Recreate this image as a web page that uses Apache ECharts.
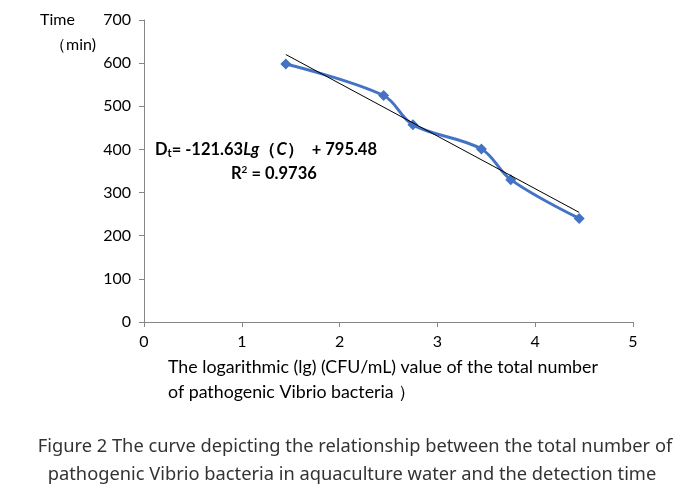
<!DOCTYPE html>
<html><head><meta charset="utf-8">
<script src="https://cdn.jsdelivr.net/npm/echarts@6/dist/echarts.min.js"></script>
<style>html,body{margin:0;padding:0;background:#fff}#c{width:693px;height:499px}</style>
</head><body><div id="c"></div>
<script>
var xValues = [1.45, 2.45, 2.75, 3.45, 3.75, 4.45];
var timeValues = [598, 525, 457, 401, 330, 240];
var trendX = [1.45, 4.45];
var trendY = [620, 254];
var xTicks = [0, 1, 2, 3, 4, 5];
var yTicks = [0, 100, 200, 300, 400, 500, 600, 700];

var chart = echarts.init(document.getElementById('c'));
var font = 'Lato, "Open Sans", sans-serif';
chart.setOption({
  animation: false,
  grid: {left: 144, right: 60, top: 20, bottom: 177},
  xAxis: {
    type: 'value', min: 0, max: 5, interval: 1,
    axisLine: {lineStyle: {color: '#868686'}},
    axisTick: {show: true, length: 5, lineStyle: {color: '#868686'}},
    splitLine: {show: false},
    axisLabel: {color: '#000', fontSize: 16, fontFamily: font, margin: 12}
  },
  yAxis: {
    type: 'value', min: 0, max: 700, interval: 100,
    axisLine: {show: true, lineStyle: {color: '#868686'}},
    axisTick: {show: true, length: 5, lineStyle: {color: '#868686'}},
    splitLine: {show: false},
    axisLabel: {color: '#000', fontSize: 16, fontFamily: font, margin: 13}
  },
  series: [
    {
      type: 'line', smooth: 0.35,
      data: xValues.map(function(x, i){ return [x, timeValues[i]]; }),
      symbol: 'diamond', symbolSize: 11,
      lineStyle: {color: '#4472C4', width: 3},
      itemStyle: {color: '#4472C4'},
      z: 2
    },
    {
      type: 'line',
      data: trendX.map(function(x, i){ return [x, trendY[i]]; }),
      symbol: 'none',
      lineStyle: {color: '#000', width: 1},
      z: 3
    }
  ],
  graphic: [
    {type: 'text', left: 40, top: 12, style: {text: 'Time', font: '16px ' + font, fill: '#000'}},
    {type: 'text', left: 50, top: 37, style: {text: '（min)', font: '16px ' + font, fill: '#000'}},
    {type: 'text', left: 155, top: 141, style: {
      text: '{b|D}{s|t}{b|= -121.63}{i|Lg}{b|（}{i|C}{b|）  + 795.48}',
      rich: {
        b: {font: 'bold 16.5px ' + font, color: '#000'},
        i: {font: 'italic bold 16.5px ' + font, color: '#000'},
        s: {font: 'bold 11px ' + font, color: '#000', verticalAlign: 'bottom', padding: [8, 0, 0, 0]}
      }
    }},
    {type: 'text', left: 231, top: 165, style: {
      text: '{b|R}{u|2}{b| = 0.9736}',
      rich: {
        b: {font: 'bold 16.5px ' + font, color: '#000'},
        u: {font: 'bold 10px ' + font, color: '#000', verticalAlign: 'top', padding: [0, 0, 6, 0]}
      }
    }},
    {type: 'text', left: 168, top: 358, style: {text: 'The logarithmic (lg) (CFU/mL) value of the total number', font: '17.8px ' + font, fill: '#000'}},
    {type: 'text', left: 168, top: 383, style: {text: 'of pathogenic Vibrio bacteria ）', font: '17.8px ' + font, fill: '#000'}},
    {type: 'text', x: 355, y: 438, style: {text: 'Figure 2 The curve depicting the relationship between the total number of', textAlign: 'center', font: '18.3px "Noto Sans", sans-serif', fill: '#333'}},
    {type: 'text', x: 352, y: 466, style: {text: 'pathogenic Vibrio bacteria in aquaculture water and the detection time', textAlign: 'center', font: '18.3px "Noto Sans", sans-serif', fill: '#333'}}
  ]
});
</script></body></html>
